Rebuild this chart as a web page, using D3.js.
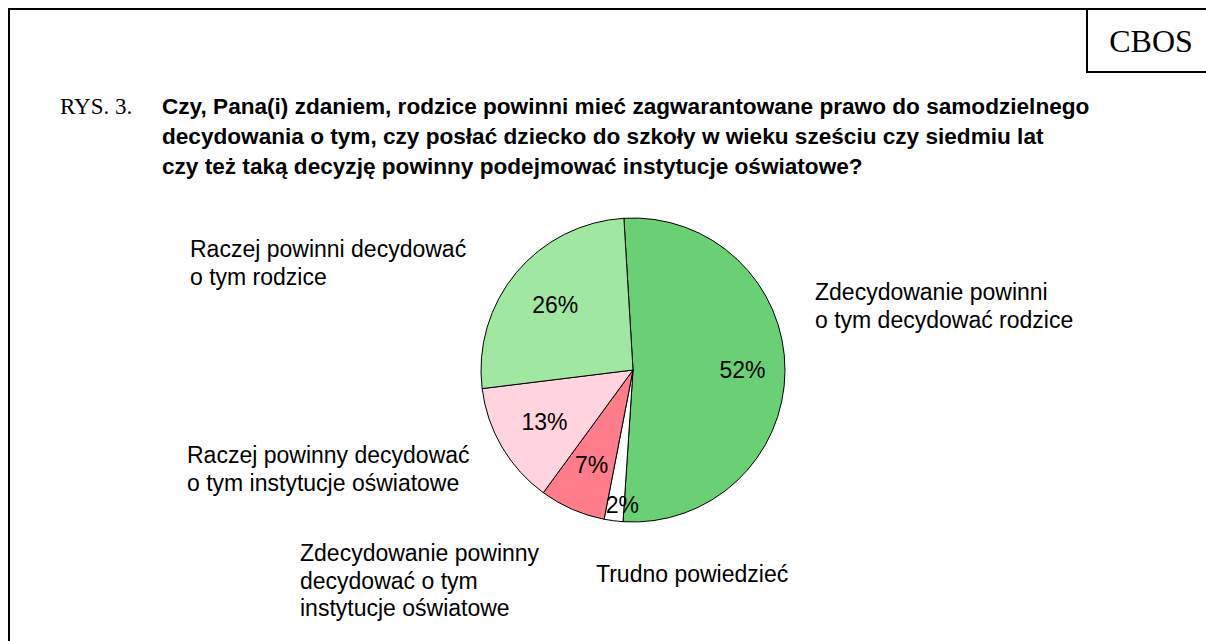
<!DOCTYPE html>
<html>
<head>
<meta charset="utf-8">
<script src="https://cdn.jsdelivr.net/npm/d3@7"></script>
<style>
  body { margin: 0; background: #fff; }
</style>
</head>
<body>
<div id="chart"></div>
<script>
const categories = [
  "Zdecydowanie powinni o tym decydować rodzice",
  "Trudno powiedzieć",
  "Zdecydowanie powinny decydować o tym instytucje oświatowe",
  "Raczej powinny decydować o tym instytucje oświatowe",
  "Raczej powinni decydować o tym rodzice"
];
const values = [52, 2, 7, 13, 26];
const colors = ["#69d173", "#ffffff", "#ff7d8a", "#ffd4de", "#a0e8a2"];

const titleLines = [
  "Czy, Pana(i) zdaniem, rodzice powinni mieć zagwarantowane prawo do samodzielnego",
  "decydowania o tym, czy posłać dziecko do szkoły w wieku sześciu czy siedmiu lat",
  "czy też taką decyzję powinny podejmować instytucje oświatowe?"
];

// label lines and their left/baseline anchor, one per category
const labelLines = [
  ["Zdecydowanie powinni", "o tym decydować rodzice"],
  ["Trudno powiedzieć"],
  ["Zdecydowanie powinny", "decydować o tym", "instytucje oświatowe"],
  ["Raczej powinny decydować", "o tym instytucje oświatowe"],
  ["Raczej powinni decydować", "o tym rodzice"]
];
const labelPos = [[815, 300], [596, 582], [300, 561], [187, 463], [190, 257]];

const width = 1206, height = 641;
const svg = d3.select("#chart").append("svg")
  .attr("width", width)
  .attr("height", height);

// frame
svg.append("path")
  .attr("d", `M9,${height} V9 H${width}`)
  .attr("fill", "none")
  .attr("stroke", "#000")
  .attr("stroke-width", 2);

// CBOS box
svg.append("path")
  .attr("d", `M1087,9 V72 H${width}`)
  .attr("fill", "none")
  .attr("stroke", "#000")
  .attr("stroke-width", 2);
svg.append("text")
  .attr("x", 1151).attr("y", 52)
  .attr("text-anchor", "middle")
  .attr("font-family", "Liberation Serif, Times New Roman, serif")
  .attr("font-size", 32)
  .text("CBOS");

// title
svg.append("text")
  .attr("x", 60).attr("y", 114)
  .attr("font-family", "Liberation Serif, Times New Roman, serif")
  .attr("font-size", 23)
  .text("RYS. 3.");
svg.append("g").selectAll("text")
  .data(titleLines)
  .join("text")
    .attr("x", 162)
    .attr("y", (d, i) => 114 + i * 30)
    .attr("font-family", "Liberation Sans, Arial, sans-serif")
    .attr("font-weight", "bold")
    .attr("font-size", 22.6)
    .text(d => d);

// pie
const cx = 633, cy = 370, r = 152;
const startAngle = -0.06;
const pie = d3.pie().sort(null)
  .startAngle(startAngle)
  .endAngle(startAngle + 2 * Math.PI);
const arcs = pie(values);
const arc = d3.arc().innerRadius(0).outerRadius(r);

const g = svg.append("g").attr("transform", `translate(${cx},${cy})`);
g.selectAll("path")
  .data(arcs)
  .join("path")
    .attr("d", arc)
    .attr("fill", (d, i) => colors[i])
    .attr("stroke", "#000")
    .attr("stroke-width", 1);

// percentage labels (radius factor and small angle shift per slice)
const labelRadius = [0.72, 0.89, 0.68, 0.675, 0.665];
const labelShift = [0, -0.05, 0, 0, 0];
g.selectAll("text.pct")
  .data(arcs)
  .join("text")
    .attr("class", "pct")
    .attr("transform", (d, i) => {
      const a = (d.startAngle + d.endAngle) / 2 + labelShift[i];
      const rr = r * labelRadius[i];
      return `translate(${Math.sin(a) * rr},${-Math.cos(a) * rr})`;
    })
    .attr("text-anchor", "middle")
    .attr("dominant-baseline", "central")
    .attr("font-family", "Liberation Sans, Arial, sans-serif")
    .attr("font-size", 23)
    .text(d => d.value + "%");

// category labels
labelLines.forEach((lines, i) => {
  svg.append("g").selectAll("text")
    .data(lines)
    .join("text")
      .attr("x", labelPos[i][0])
      .attr("y", (d, j) => labelPos[i][1] + j * 27.5)
      .attr("font-family", "Liberation Sans, Arial, sans-serif")
      .attr("font-size", 23)
      .text(d => d);
});
</script>
</body>
</html>
